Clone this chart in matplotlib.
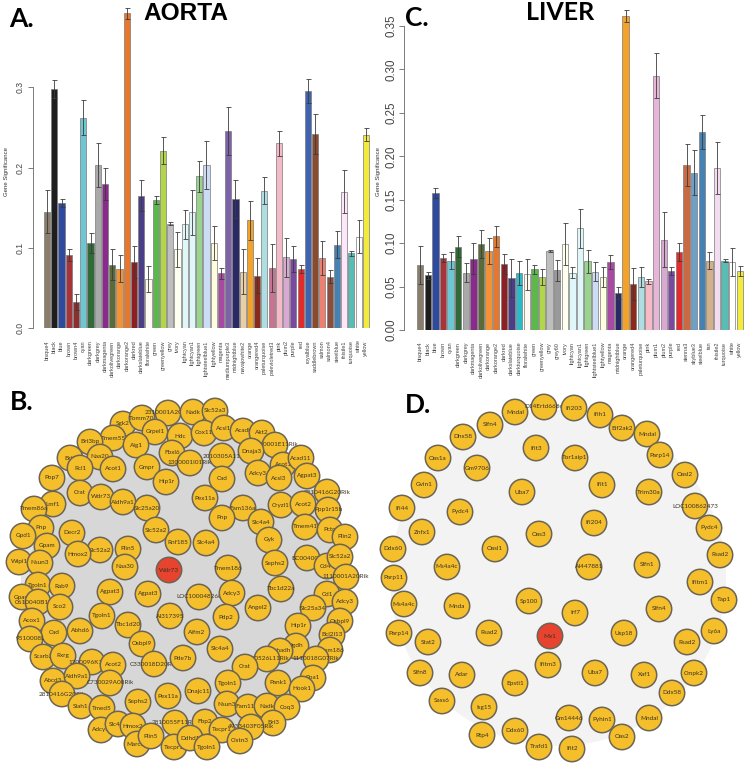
import matplotlib
matplotlib.use('Agg')
import matplotlib.pyplot as plt
from matplotlib.patches import Circle
import numpy as np

W, H = 744, 766

# ---------------- data: AORTA ----------------
aorta_modules = ["bisque4", "black", "blue", "brown", "brown4", "cyan", "darkgreen", "darkgrey",
                 "darkmagenta", "darkolivegreen", "darkorange", "darkorange2", "darkred",
                 "darkslateblue", "floralwhite", "green", "greenyellow", "grey", "ivory",
                 "lightcyan", "lightcyan1", "lightgreen", "lightsteelblue1", "lightyellow",
                 "magenta", "mediumpurple3", "midnightblue", "navajowhite2", "orange",
                 "orangered4", "paleturquoise", "palevioletred3", "pink", "plum2", "purple",
                 "red", "royalblue", "saddlebrown", "salmon", "salmon4", "steelblue",
                 "thistle1", "turquoise", "white", "yellow"]
aorta_gs = [0.145, 0.298, 0.156, 0.091, 0.032, 0.262, 0.106, 0.203, 0.179, 0.079, 0.074, 0.392,
            0.082, 0.165, 0.061, 0.160, 0.221, 0.130, 0.098, 0.129, 0.144, 0.189, 0.203, 0.106,
            0.068, 0.246, 0.161, 0.070, 0.134, 0.065, 0.171, 0.075, 0.230, 0.088, 0.086, 0.074,
            0.295, 0.242, 0.087, 0.064, 0.104, 0.170, 0.093, 0.114, 0.241]
aorta_se = [0.027, 0.011, 0.005, 0.008, 0.010, 0.022, 0.013, 0.027, 0.020, 0.019, 0.017, 0.007,
            0.020, 0.019, 0.016, 0.005, 0.017, 0.002, 0.022, 0.018, 0.028, 0.019, 0.030, 0.021,
            0.007, 0.030, 0.024, 0.028, 0.024, 0.022, 0.017, 0.030, 0.016, 0.024, 0.016, 0.005,
            0.015, 0.025, 0.021, 0.008, 0.017, 0.027, 0.003, 0.020, 0.008]
aorta_yticks = [0.0, 0.1, 0.2, 0.3]
aorta_yticklabels = ["0.0", "0.1", "0.2", "0.3"]

# ---------------- data: LIVER ----------------
liver_modules = ["bisque4", "black", "blue", "brown", "cyan", "darkgreen", "darkgrey", "darkmagenta",
                 "darkolivegreen", "darkorange", "darkorange2", "darkred", "darkslateblue",
                 "darkturquoise", "floralwhite", "green", "greenyellow", "grey", "grey60", "ivory",
                 "lightcyan", "lightcyan1", "lightgreen", "lightsteelblue1", "lightyellow",
                 "magenta", "midnightblue", "orange", "orangered4", "paleturquoise", "pink",
                 "plum1", "plum2", "purple", "red", "sienna3", "skyblue3", "steelblue", "tan",
                 "thistle2", "turquoise", "white", "yellow"]
liver_gs = [0.075, 0.063, 0.158, 0.083, 0.080, 0.096, 0.066, 0.082, 0.099, 0.091, 0.108, 0.076,
            0.060, 0.066, 0.064, 0.070, 0.061, 0.091, 0.069, 0.099, 0.066, 0.117, 0.079, 0.067,
            0.061, 0.078, 0.043, 0.362, 0.053, 0.061, 0.056, 0.293, 0.104, 0.068, 0.090, 0.190,
            0.181, 0.228, 0.080, 0.187, 0.080, 0.078, 0.068]
liver_se = [0.022, 0.004, 0.006, 0.005, 0.010, 0.012, 0.011, 0.018, 0.016, 0.015, 0.012, 0.012,
            0.022, 0.014, 0.018, 0.005, 0.009, 0.001, 0.012, 0.024, 0.006, 0.022, 0.013, 0.011,
            0.011, 0.008, 0.007, 0.007, 0.018, 0.012, 0.003, 0.026, 0.032, 0.005, 0.010, 0.024,
            0.026, 0.020, 0.010, 0.030, 0.002, 0.016, 0.006]
liver_yticks = [0.0, 0.05, 0.10, 0.15, 0.20, 0.25, 0.30, 0.35]
liver_yticklabels = ["0.00", "0.05", "0.10", "0.15", "0.20", "0.25", "0.30", "0.35"]

module_colors = {
    "bisque4": "#8B7D6B", "black": "#1E1E1E", "blue": "#2E4A9F", "brown": "#A8333A",
    "brown4": "#8B2F2F", "cyan": "#6EC6D2", "darkgreen": "#2F6A37", "darkgrey": "#A9A9A9",
    "darkmagenta": "#8A2A8C", "darkolivegreen": "#5A6B3A", "darkorange": "#F39234",
    "darkorange2": "#E8772E", "darkred": "#8E1F22", "darkslateblue": "#4A3F87",
    "floralwhite": "#FFFAF0", "green": "#5CB84A", "greenyellow": "#B2D64A", "grey": "#BEBEBE",
    "ivory": "#FFFFF0", "lightcyan": "#E0F7FA", "lightcyan1": "#E0F7FA", "lightgreen": "#9AD38E",
    "lightsteelblue1": "#CADDF5", "lightyellow": "#FFFDE0", "magenta": "#A84AA3",
    "mediumpurple3": "#7D62A9", "midnightblue": "#2A2965", "navajowhite2": "#E8CFA6",
    "orange": "#F4A32A", "orangered4": "#8A2A1A", "paleturquoise": "#AEDDE2",
    "palevioletred3": "#C8738F", "pink": "#F5B9C7", "plum2": "#D9A9D4", "purple": "#7A4AA0",
    "red": "#E32B2B", "royalblue": "#4063B0", "saddlebrown": "#8B4A2B", "salmon": "#EE8072",
    "salmon4": "#8A4E3E", "steelblue": "#4681B3", "thistle1": "#FDE6FA", "turquoise": "#58BDB5",
    "white": "#FFFFFF", "yellow": "#F2EA3C", "darkturquoise": "#2BBBC8", "grey60": "#999999",
    "plum1": "#E6B5D8", "sienna3": "#C86A42", "skyblue3": "#6E9FC6", "tan": "#D4B08A",
    "thistle2": "#F2DCEF",
}

# ---------------- data: networks (layout coordinates) ----------------
aorta_net_labels = ["Sgk2", "Tomm70", "2310001A20Rik", "Nadk", "Slc52a3", "Tmem55", "Bri3bp", "Grpel1",
    "Hdc", "Cox11", "Acsl1", "Acadl", "Akt2", "Aig1", "1110001E11Rik", "Dnaja3", "Fbxl6",
    "2010305A11", "1300001I01Rik", "Bri3", "Naa20", "Rcl1", "Acot1", "Gmpr", "Acot1", "Acad11",
    "Adcy3", "Acsl3", "Agpat3", "Pop7", "Hip1r", "Cad", "2810416G20Rik", "Crat", "Wdr73",
    "Aldh9a1", "Pex11a", "Lmf1", "Tmem86a", "Slc25a20", "Cryzl1", "Acot2", "Ppp1r15b", "Fam136a",
    "Pnp", "Slc4a4", "Tmem41", "Pctp", "Plin2", "Gyk", "Pnp", "Gpd1", "Decr2", "Slc52a2", "Rnf185",
    "Slc4a4", "Gpam", "Slc52a2", "Hmox2", "Plin5", "Sephs2", "Tmem186", "BC004004", "Cd44",
    "Slc52a2", "1110001A20Rik", "Wipi1", "Nsun3", "Naa30", "Wdr73", "Tgoln1", "Rab9", "Agpat3",
    "Agpat3", "LOC100048268", "Adcy3", "Tbc1d22a", "Cd1", "Adcy3", "Gpam", "0610040B10Rik", "Sco2",
    "AI317395", "Pdp2", "Angel2", "Slc25a34", "Acox1", "Tgoln1", "Tbc1d20", "Osbpl9", "Hip1r", "Cad",
    "Abhd6", "Aifm2", "Bcl2l13", "9510008L", "Osbpl9", "Slc4a4", "Ogdh", "Ehhadh", "Tmem186",
    "1110018G07Rik", "Scarb2", "Rxrg", "1700096K18Rik", "Acot2", "C330018D20Rik", "Pde7b",
    "4930526L11Rik", "Crat", "Ppa1", "Abcd3", "Aldh9a1", "C730029A08Rik", "2810416G20Rik", "Tgoln1",
    "Pank1", "Hook1", "Pex11a", "Dnajc11", "Sephs2", "Nsun3", "Fam117a", "Nadk", "Coq3", "Siah1",
    "Tmed5", "Bri3", "Adcy3", "Slc4a4", "Hmox2", "2810055F11Rik", "Fbp2", "Tecpr1",
    "4933403F05Rik", "March5", "Plin5", "Tecpr1", "Ddhd1", "Tgoln1", "Clstn3"]
aorta_net_x = [123, 142, 168, 193, 215, 113, 90, 155, 180, 204, 224, 243, 262, 136, 275, 251, 172,
    222, 190, 70, 100, 80, 113, 147, 283, 301, 258, 279, 307, 52, 166, 222, 327, 80, 101, 123, 205,
    53, 34, 147, 281, 303, 328, 243, 222, 261, 305, 330, 345, 269, 41, 23, 72, 156, 178, 206, 47,
    100, 78, 128, 275, 228, 307, 327, 340, 346, 19, 40, 125, 169, 38, 62, 110, 148, 199, 232, 281,
    327, 345, 22, 38, 60, 170, 226, 258, 313, 32, 102, 128, 340, 298, 54, 80, 197, 332, 30, 142,
    220, 296, 280, 330, 316, 43, 63, 92, 113, 154, 183, 267, 245, 313, 53, 77, 110, 62, 228, 278,
    302, 168, 198, 138, 227, 248, 267, 287, 81, 102, 273, 101, 118, 133, 175, 205, 222, 251, 137,
    151, 174, 190, 207, 240]
aorta_net_y = [424, 418, 413, 412, 411, 438, 442, 432, 436, 433, 428, 431, 433, 445, 445, 451, 453,
    456, 463, 458, 457, 468, 469, 467, 465, 458, 473, 478, 476, 478, 482, 479, 492, 493, 497, 502,
    498, 504, 509, 508, 505, 504, 510, 508, 518, 522, 527, 530, 537, 540, 528, 536, 533, 530, 542,
    543, 546, 550, 554, 549, 563, 568, 558, 566, 557, 577, 562, 563, 567, 570, 585, 586, 592, 594,
    597, 593, 589, 594, 602, 597, 602, 607, 616, 617, 608, 608, 621, 616, 625, 621, 626, 633, 631,
    632, 635, 639, 644, 649, 646, 651, 650, 659, 657, 656, 662, 665, 664, 658, 659, 667, 678, 681,
    676, 683, 694, 683, 683, 689, 696, 691, 702, 704, 707, 706, 707, 706, 708, 723, 730, 724, 726,
    723, 722, 730, 727, 744, 736, 747, 738, 747, 741]
aorta_hub = 69  # red node (Wdr73)

liver_net_labels = ["Mndal", "D14Ertd668e", "Ifi203", "Ifih1", "Eif2ak2", "Mndal", "Parp14", "Oasl2",
    "LOC100862473", "Pydc4", "Slfn4", "Dhx58", "Ifit3", "Tor1aip1", "Oas1a", "Gm9706", "Gvin1",
    "Ifit1", "Trim30a", "Uba7", "Ifi44", "Pydc4", "Ifi204", "Znfx1", "Oas3", "Ddx60", "Oasl1",
    "Rsad2", "Ms4a4c", "AI447881", "Slfn1", "Parp11", "Ifitm1", "Tap1", "Sp100", "Ms4a4c", "Mnda",
    "Irf7", "Slfn4", "Parp14", "Stat2", "Rsad2", "Mx1", "Usp18", "Rsad2", "Ly6a", "Ifitm3", "Slfn8",
    "Adar", "Epsti1", "Uba7", "Xaf1", "Cmpk2", "Ddx58", "Sass6", "Isg15", "Mndal", "Gm14446",
    "Pyhin1", "Oas2", "Rtp4", "Ddx60", "Trafd1", "Ifit2"]
liver_net_x = [515, 544, 574, 600, 622, 647, 660, 685, 695, 709, 490, 463, 536, 575, 438, 477, 424,
    602, 649, 522, 402, 460, 594, 422, 539, 393, 495, 720, 447, 589, 647, 394, 700, 724, 529, 404,
    457, 575, 659, 399, 428, 489, 550, 624, 687, 714, 548, 420, 462, 515, 595, 644, 694, 672, 442,
    484, 649, 569, 602, 622, 482, 515, 539, 572]
liver_net_y = [412, 407, 408, 415, 428, 434, 455, 475, 506, 528, 425, 437, 448, 458, 458, 468, 485,
    485, 492, 492, 508, 512, 523, 532, 534, 549, 549, 555, 567, 567, 565, 578, 582, 600, 601, 604,
    606, 613, 609, 633, 642, 633, 636, 633, 642, 631, 665, 673, 675, 683, 673, 675, 673, 693, 701,
    707, 718, 718, 720, 737, 735, 731, 747, 749]
liver_hub = 42  # red node (Mx1)

# ---------------- figure ----------------
fig = plt.figure(figsize=(W / 100, H / 100), dpi=100)
ov = fig.add_axes([0, 0, 1, 1])
ov.set_xlim(0, W)
ov.set_ylim(H, 0)
ov.axis('off')


def bar_panel(left, top, right, bottom, names, vals, errs, ymax, xlim, yticks, yticklabels,
              ytick_fs, ytick_pad, xlab_pad):
    ax = fig.add_axes([left / W, 1 - bottom / H, (right - left) / W, (bottom - top) / H])
    x = 0.7 + 1.2 * np.arange(len(names))
    cols = [module_colors[n] for n in names]
    ax.bar(x, vals, width=1.0, color=cols, edgecolor='#7a7a7a', linewidth=0.5, zorder=2)
    ax.errorbar(x, vals, yerr=errs, fmt='none', ecolor='#3c3c3c', elinewidth=0.6,
                capsize=1.8, capthick=0.6, zorder=3)
    ax.set_xlim(*xlim)
    ax.set_ylim(0, ymax)
    for s in ['top', 'right', 'bottom']:
        ax.spines[s].set_visible(False)
    ax.spines['left'].set_bounds(yticks[0], yticks[-1])
    ax.spines['left'].set_color('#666666')
    ax.spines['left'].set_linewidth(0.6)
    ax.set_yticks(yticks)
    ax.set_yticklabels(yticklabels, rotation=90, va='center', fontsize=ytick_fs,
                       family='Liberation Sans', color='#444444')
    ax.tick_params(axis='y', length=3.5, width=0.6, color='#666666', pad=ytick_pad)
    ax.set_xticks(x)
    ax.set_xticklabels(names, rotation=90, fontsize=4.0, family='Liberation Sans',
                       color='#444444', va='top', ha='center')
    ax.tick_params(axis='x', length=0, pad=xlab_pad)
    ax.patch.set_alpha(0)
    return ax


bar_panel(33, 3, 372, 328, aorta_modules, aorta_gs, aorta_se, 0.405, (-1.62, 54.5),
          aorta_yticks, aorta_yticklabels, 6.2, 2.5, 9)
bar_panel(404, 0, 744, 330, liver_modules, liver_gs, liver_se, 0.38, (-1.85, 51.76),
          liver_yticks, liver_yticklabels, 8.3, 1.5, 8.5)

fig.text(4 / W, 1 - 171 / H, "Gene Significance", rotation=90, fontsize=4.3,
         family='Liberation Sans', va='center', ha='left', color='#333333')
fig.text(376 / W, 1 - 172 / H, "Gene Significance", rotation=90, fontsize=4.3,
         family='Liberation Sans', va='center', ha='left', color='#333333')

# titles and panel letters
ov.text(186, 13, "AORTA", fontsize=17.6, fontweight='bold', family='Liberation Sans',
        ha='center', va='center', color='black')
ov.text(560, 13, "LIVER", fontsize=18, fontweight='bold', family='Lato',
        ha='center', va='center', color='black')
for letter, lx, ly in [("A.", 9, 19), ("C.", 405, 18), ("B.", 10, 402), ("D.", 405, 405)]:
    ov.text(lx, ly, letter, fontsize=19, fontweight='bold', family='Lato',
            ha='left', va='center', color='black')

# network backgrounds
ov.add_patch(Circle((185, 580), 160, facecolor='#D7D7D7', edgecolor='#E4E4E4', linewidth=6, zorder=1))
ov.add_patch(Circle((558, 578), 168, facecolor='#F3F3F3', edgecolor='none', zorder=1))


def draw_net(xs, ys, labels, hub, r=12.7):
    for i, (x, y, lab) in enumerate(zip(xs, ys, labels)):
        fc = '#E8432E' if i == hub else '#F5BE2B'
        z = 2 + i * 0.01
        ov.add_patch(Circle((x, y), r, facecolor=fc, edgecolor='#6B6556', linewidth=1.1, zorder=z))
        ov.text(x, y, lab, fontsize=4.6, family='Lato', ha='center', va='center',
                color='#3a3322', zorder=z + 0.005)


draw_net(aorta_net_x, aorta_net_y, aorta_net_labels, aorta_hub)
draw_net(liver_net_x, liver_net_y, liver_net_labels, liver_hub)

fig.savefig('out.png', dpi=100)
